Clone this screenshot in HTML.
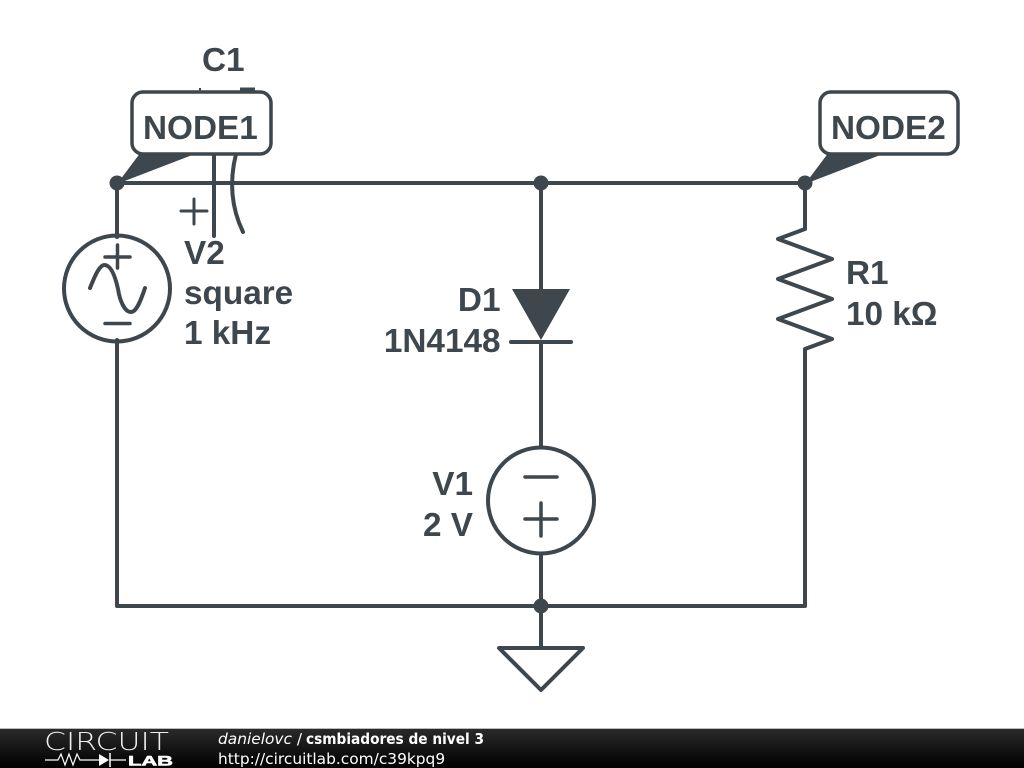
<!DOCTYPE html>
<html>
<head>
<meta charset="utf-8">
<style>
html,body{margin:0;padding:0;background:#fff;width:1024px;height:768px;overflow:hidden}
svg{display:block}
text{font-family:"Liberation Sans",Arial,sans-serif}
.l{font-size:33.3px;font-weight:bold;fill:#3d474d}
.f{font-family:"DejaVu Sans",sans-serif;font-size:15.4px;fill:#fff}
</style>
</head>
<body>
<svg width="1024" height="768" viewBox="0 0 1024 768" xmlns="http://www.w3.org/2000/svg">
<defs>
<linearGradient id="g" x1="0" y1="0" x2="0" y2="1"><stop offset="0" stop-color="#2a2a2a"/><stop offset="1" stop-color="#000"/></linearGradient>
</defs>
<rect width="1024" height="768" fill="#fff"/>
<g fill="none" stroke="#3d474d" stroke-width="4" stroke-linecap="round" stroke-linejoin="round">
<path d="M117 183H805M117 183V237M117 340V606H805V349M805 183V229M541 183V289M541 342V447M541 554V648"/>
<path d="M805 229L778 239L832 259L778 279L832 299L778 319L832 339L805 349" stroke-linecap="butt"/>
<circle cx="117" cy="288.500" r="53"/>
<path d="M90 288C96 273 100 265 104.500 265C112 265 116 280 118 289C120 302 125 312 131 312C136 312 140 303 145 288"/>
<path d="M105 257H130M117.500 245V268M105 323.500H130" stroke-width="3.500"/>
<circle cx="541" cy="500.500" r="53"/>
<path d="M525 477H557M525 519H557M541 503V536" stroke-width="3.500"/>
<path d="M511 342H571"/>
<path d="M499 648H583L541 690Z"/>
<path d="M214 150V236" />
<path d="M236 154C230 178 230 205 243 232" />
<path d="M181 211H207M194 199V224" stroke-width="3"/>
<path d="M240 90H255" stroke-width="5" stroke-linecap="butt"/>
<path d="M199 90H201" stroke-width="4" stroke-linecap="butt"/>
</g>
<path d="M512 289H570L541 340Z" fill="#3d474d"/>
<g fill="#3d474d">
<circle cx="117" cy="183" r="7.500"/>
<circle cx="541" cy="183" r="7.500"/>
<circle cx="805" cy="183" r="7.500"/>
<circle cx="541" cy="606" r="7.500"/>
<path d="M117 184L141 152H200Z"/>
<path d="M805 184L829 152H888Z"/>
</g>
<rect x="132" y="92" width="139" height="62" rx="11" fill="#fff" stroke="#3d474d" stroke-width="3.500"/>
<rect x="820" y="92" width="138" height="62" rx="11" fill="#fff" stroke="#3d474d" stroke-width="3.500"/>
<text class="l" x="202" y="71">C1</text>
<text class="l" x="143" y="139">NODE1</text>
<text class="l" x="831" y="139">NODE2</text>
<text class="l" x="184" y="264">V2</text>
<text class="l" x="184" y="304">square</text>
<text class="l" x="184" y="344">1 kHz</text>
<text class="l" x="846" y="284">R1</text>
<text class="l" x="846" y="325">10 kΩ</text>
<text class="l" x="500.500" y="311" text-anchor="end">D1</text>
<text class="l" x="500.500" y="352" text-anchor="end">1N4148</text>
<text class="l" x="473" y="495" text-anchor="end">V1</text>
<text class="l" x="473" y="536" text-anchor="end">2 V</text>
<rect x="0" y="728" width="1024" height="2" fill="#bbb"/>
<rect x="0" y="729" width="1024" height="39" fill="url(#g)"/>
<text x="44" y="750" font-size="25" style="font-family:'DejaVu Sans',sans-serif;font-weight:200" fill="#eee" textLength="125" lengthAdjust="spacingAndGlyphs">CIRCUIT</text>
<path d="M45 760H58L61 754L65 765L69 754L73 765L77 754L80 760H99M110 760H126" stroke="#fff" stroke-width="1.200" fill="none"/>
<path d="M99 754L109 760L99 766Z" fill="#fff"/>
<path d="M110 753V767" stroke="#fff" stroke-width="1.500"/>
<text x="128" y="765.500" font-size="14" font-weight="bold" fill="#fff" stroke="#fff" stroke-width="0.600" textLength="45" lengthAdjust="spacingAndGlyphs">LAB</text>
<text class="f" x="218" y="744"><tspan font-style="italic">danielovc</tspan> /</text>
<text class="f" x="306" y="744" font-weight="bold" textLength="178" lengthAdjust="spacingAndGlyphs">csmbiadores de nivel 3</text>
<text class="f" x="218" y="764">http://circuitlab.com/c39kpq9</text>
</svg>
</body>
</html>
